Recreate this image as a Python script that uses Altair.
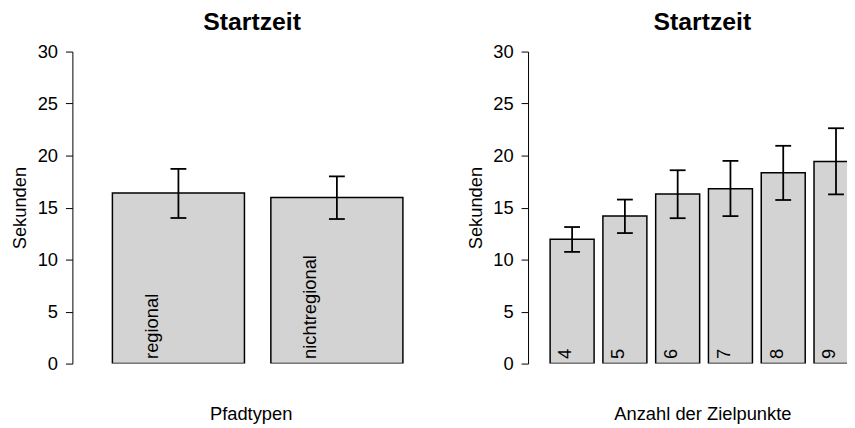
import altair as alt
import pandas as pd

# ---- data ----
left_cats = ["regional", "nichtregional"]
left_means = [16.40, 15.96]
left_lo = [14.00, 13.90]
left_hi = [18.72, 18.00]

right_cats = ["4", "5", "6", "7", "8", "9"]
right_means = [11.95, 14.18, 16.30, 16.82, 18.34, 19.42]
right_lo = [10.74, 12.55, 13.98, 14.18, 15.73, 16.27]
right_hi = [13.13, 15.77, 18.59, 19.49, 20.94, 22.63]

y_ticks = [0, 5, 10, 15, 20, 25, 30]

BAR_W = 1.0
BAR_SPACE = 0.2
FONT = "Liberation Sans"
FS = 18.5


def make_df(cats, means, lo, hi, lab_off):
    rows = []
    for i, (c, m, l, h) in enumerate(zip(cats, means, lo, hi)):
        x0 = BAR_SPACE + i * (BAR_W + BAR_SPACE)
        rows.append(dict(cat=c, mean=m, lo=l, hi=h, x0=x0, x1=x0 + BAR_W,
                         xc=x0 + BAR_W / 2, xl=x0 + BAR_W / 2 + lab_off, ylab=0.45))
    return pd.DataFrame(rows)


def panel(df, xdomain, width, xtitle, xtitle_x, title_dx):
    xs = alt.Scale(domain=xdomain, nice=False, zero=False)
    ys = alt.Scale(domain=[0, 30], nice=False, zero=True)
    xaxis = alt.Axis(title=xtitle, domain=False, ticks=False, labels=False, grid=False,
                     titleX=xtitle_x, titleY=56, titleAlign="center", titleBaseline="alphabetic",
                     titleFont=FONT, titleFontSize=FS, titleFontWeight="normal", titleColor="black")
    yaxis = alt.Axis(title="Sekunden", values=y_ticks, grid=False, tickSize=7, labelPadding=8,
                     domainColor="black", tickColor="black", domainWidth=1, tickWidth=1,
                     labelFont=FONT, labelFontSize=FS, labelColor="black",
                     titleFont=FONT, titleFontSize=FS, titleFontWeight="normal", titleColor="black",
                     titleX=-47, titleY=157.5, titleAngle=270, titleAlign="center",
                     titleBaseline="alphabetic")
    base = alt.Chart(df)
    bars = base.mark_rect(fill="#d3d3d3", stroke="black", strokeWidth=1.5, clip=True).encode(
        x=alt.X("x0:Q", scale=xs, axis=xaxis),
        x2="x1:Q",
        y=alt.Y("mean:Q", scale=ys, axis=yaxis),
        y2=alt.datum(0),
    )
    labels = base.mark_text(angle=270, align="left", baseline="middle", font=FONT,
                            fontSize=FS, color="black").encode(
        x="xl:Q", y="ylab:Q", text="cat:N")
    err = base.mark_rule(color="black", strokeWidth=1.8).encode(
        x="xc:Q", y="lo:Q", y2="hi:Q")
    cap_lo = base.mark_tick(orient="horizontal", size=16, thickness=1.8, color="black",
                            opacity=1).encode(x="xc:Q", y="lo:Q")
    cap_hi = base.mark_tick(orient="horizontal", size=16, thickness=1.8, color="black",
                            opacity=1).encode(x="xc:Q", y="hi:Q")
    return alt.layer(bars, labels, err, cap_lo, cap_hi).properties(
        width=width, height=315,
        title=alt.TitleParams("Startzeit", font=FONT, fontSize=25, fontWeight="bold",
                              color="black", anchor="middle", dx=title_dx, offset=-12,
                              baseline="alphabetic"),
    )


left = panel(make_df(left_cats, left_means, left_lo, left_hi, -0.2),
             [-0.103, 2.5], 347, "Pfadtypen", 180, 8)
right = panel(make_df(right_cats, right_means, right_lo, right_hi, -0.15),
              [-0.302, 6.95], 322, "Anzahl der Zielpunkte", 176, 15)

chart = alt.hconcat(left, right, spacing=113, bounds="flush").properties(
    padding={"left": 3, "top": 0, "right": 0, "bottom": 0}
).configure_view(stroke=None)

chart.save("out.html", embed_options={"renderer": "svg", "actions": False})
